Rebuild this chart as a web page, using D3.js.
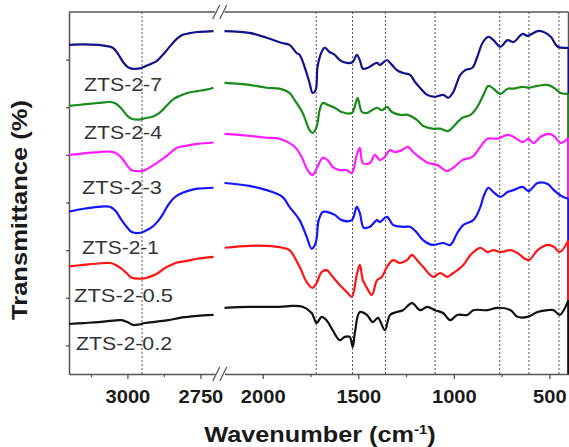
<!DOCTYPE html>
<html>
<head>
<meta charset="utf-8">
<script src="https://cdn.jsdelivr.net/npm/d3@7"></script>
<style>
  body { margin: 0; background: #fff; }
  text { font-family: "Liberation Sans", Arial, sans-serif; }
</style>
</head>
<body>
<div id="chart"></div>
<script>
// sample names, top to bottom, and their colours
var sampleNames = ['ZTS-2-7', 'ZTS-2-4', 'ZTS-2-3', 'ZTS-2-1', 'ZTS-2-0.5', 'ZTS-2-0.2'];
var sampleColors = ['#12128a', '#1a8a1a', '#ff1cff', '#1414ff', '#ff1414', '#111111'];

// [wavenumber, transmittance (offset, a.u.)]
// high wavenumber window 3200-2700
var hi_7 = [[3200,69.1],[3150,69.2],[3100,69.1],[3075,68.9],[3050,68.5],[3030,67.0],[3015,65.5],[3000,64.5],[2985,64.1],[2965,64.1],[2950,64.3],[2935,64.7],[2920,65.1],[2900,65.7],[2885,66.6],[2870,67.6],[2850,69.1],[2830,70.4],[2810,71.2],[2790,71.5],[2760,71.8],[2730,71.9],[2705,72.0]];
var hi_4 = [[3200,56.3],[3150,56.6],[3100,56.9],[3060,57.1],[3040,56.8],[3020,55.7],[3000,54.2],[2985,53.6],[2960,53.4],[2940,53.7],[2915,54.0],[2895,54.6],[2880,55.4],[2860,56.7],[2840,57.8],[2820,58.4],[2795,59.0],[2760,59.4],[2730,59.7],[2705,60.1]];
var hi_3 = [[3200,46.0],[3150,46.3],[3100,46.6],[3060,46.7],[3040,46.4],[3020,45.4],[3000,43.7],[2985,42.8],[2960,42.6],[2940,42.8],[2915,43.7],[2895,44.5],[2870,45.6],[2850,46.6],[2830,47.5],[2800,47.9],[2760,48.3],[2705,48.6]];
var hi_1 = [[3200,34.1],[3150,34.7],[3100,35.1],[3060,35.1],[3040,34.2],[3020,32.3],[3000,30.7],[2985,29.8],[2960,29.6],[2940,30.0],[2915,30.9],[2895,32.1],[2880,33.4],[2860,35.5],[2840,37.0],[2820,37.8],[2795,38.4],[2760,38.9],[2705,39.1]];
var hi_05 = [[3200,22.6],[3150,22.9],[3100,23.2],[3060,23.3],[3040,22.9],[3020,22.1],[3000,21.0],[2985,20.2],[2960,20.0],[2940,20.1],[2915,20.6],[2895,21.2],[2870,22.3],[2850,22.9],[2830,23.4],[2800,23.7],[2760,24.2],[2705,24.6]];
var hi_02 = [[3200,10.5],[3150,10.7],[3100,10.9],[3050,11.2],[3020,11.3],[3000,10.9],[2980,10.3],[2960,10.4],[2940,10.7],[2900,11.0],[2860,11.3],[2820,11.8],[2780,12.1],[2740,12.3],[2705,12.4]];

// low wavenumber window 2200-400
var lo_7 = [[2200,72.0],[2070,71.6],[1980,70.6],[1900,69.5],[1860,69.1],[1823,67.4],[1807,67.0],[1781,64.5],[1755,61.1],[1739,59.0],[1723,59.6],[1713,64.5],[1692,67.6],[1676,68.5],[1650,67.6],[1623,67.0],[1597,65.9],[1560,65.3],[1529,65.5],[1508,67.0],[1492,65.9],[1476,64.1],[1450,64.3],[1402,65.3],[1387,64.9],[1350,65.9],[1324,64.9],[1298,63.8],[1266,63.2],[1229,62.8],[1203,61.3],[1177,60.1],[1140,58.6],[1098,58.2],[1056,58.6],[1029,58.0],[1003,59.2],[966,62.8],[940,63.8],[903,64.3],[877,66.6],[850,69.5],[819,70.8],[793,70.1],[756,68.7],[719,70.1],[688,69.7],[640,71.4],[614,71.0],[562,72.0],[530,71.8],[493,70.8],[456,68.7],[400,68.5]];
var lo_4 = [[2200,61.1],[2070,60.7],[1980,60.1],[1912,59.9],[1860,59.0],[1833,57.5],[1791,54.8],[1755,51.2],[1739,50.6],[1718,51.9],[1702,55.4],[1686,56.9],[1660,56.5],[1623,55.9],[1587,55.0],[1534,54.8],[1513,56.9],[1503,58.0],[1481,55.0],[1455,54.8],[1402,55.9],[1376,55.4],[1350,56.1],[1324,55.0],[1282,54.4],[1240,54.4],[1192,53.3],[1161,52.1],[1113,51.5],[1071,51.5],[1029,51.0],[1003,51.9],[955,53.8],[913,54.4],[877,56.1],[845,58.6],[819,60.5],[793,59.9],[756,58.8],[719,59.9],[688,59.9],[640,60.3],[609,60.1],[562,60.5],[509,60.7],[477,60.1],[441,59.0],[400,58.8]];
var lo_3 = [[2200,50.4],[2070,50.0],[1980,49.6],[1912,49.4],[1833,47.7],[1797,45.6],[1765,42.8],[1739,41.8],[1713,43.5],[1686,45.4],[1660,44.9],[1634,43.5],[1597,42.8],[1560,42.8],[1534,42.2],[1508,46.0],[1492,47.5],[1476,44.3],[1439,44.3],[1413,46.0],[1387,44.9],[1361,45.6],[1334,47.0],[1308,46.6],[1271,47.0],[1240,47.7],[1213,46.6],[1177,45.4],[1135,44.3],[1088,43.9],[1035,42.6],[1003,43.3],[955,44.9],[903,45.6],[861,47.7],[824,49.4],[772,49.4],[719,50.2],[688,49.8],[640,48.7],[609,49.4],[583,48.5],[546,49.8],[504,50.4],[477,50.0],[441,48.5],[400,49.6]];
var lo_1 = [[2200,40.1],[2070,39.5],[1980,38.6],[1897,37.2],[1860,35.1],[1807,32.3],[1770,28.8],[1744,26.3],[1723,27.5],[1707,32.3],[1686,34.0],[1660,34.0],[1623,33.4],[1587,32.3],[1534,32.3],[1508,35.1],[1492,33.8],[1471,30.7],[1439,30.9],[1402,32.3],[1387,31.9],[1350,33.0],[1318,31.3],[1266,30.9],[1229,30.9],[1192,29.6],[1161,28.1],[1113,27.1],[1056,27.5],[1019,27.1],[982,29.6],[950,31.3],[898,32.3],[861,35.1],[845,37.2],[819,39.1],[793,38.2],[756,37.2],[719,38.2],[688,38.6],[640,39.3],[609,38.4],[562,40.1],[509,39.9],[477,38.6],[430,37.2],[400,36.8]];
var lo_05 = [[2200,26.5],[2070,26.9],[1980,26.9],[1897,26.5],[1860,26.0],[1807,22.5],[1770,19.3],[1739,18.1],[1718,19.1],[1692,21.4],[1666,21.8],[1634,20.4],[1597,18.7],[1560,17.2],[1534,16.2],[1508,20.8],[1492,22.9],[1476,19.7],[1455,18.1],[1429,16.6],[1402,19.7],[1376,20.4],[1350,22.5],[1318,23.9],[1282,23.3],[1245,23.9],[1219,25.0],[1192,23.9],[1161,22.5],[1108,20.4],[1071,21.2],[1035,20.4],[1003,21.2],[950,22.9],[913,25.0],[861,26.5],[824,25.6],[793,26.0],[756,25.6],[703,26.0],[667,25.4],[609,23.9],[562,26.0],[509,27.1],[477,26.7],[446,25.6],[400,28.1]];
var lo_02 = [[2200,13.9],[2070,14.1],[1912,14.1],[1844,14.3],[1791,14.1],[1744,12.8],[1718,10.7],[1692,12.0],[1666,11.3],[1634,9.2],[1597,7.1],[1571,7.8],[1545,7.8],[1529,5.7],[1518,8.6],[1492,13.0],[1455,12.4],[1424,10.9],[1397,11.8],[1361,9.2],[1334,12.4],[1298,13.0],[1266,13.4],[1219,14.9],[1177,13.4],[1140,14.1],[1098,13.4],[1056,12.8],[1019,11.3],[982,12.4],[929,12.4],[898,13.4],[824,13.4],[772,13.9],[703,13.4],[667,12.0],[614,12.0],[562,13.0],[509,13.4],[477,13.4],[446,12.4],[400,15.5]];

var hiSeries = [hi_7, hi_4, hi_3, hi_1, hi_05, hi_02];
var loSeries = [lo_7, lo_4, lo_3, lo_1, lo_05, lo_02];

// axis ticks and marker lines
var hiTicks = [3000, 2750];
var hiMinor = [3125, 2875];
var loTicks = [2000, 1500, 1000, 500];
var loMinor = [1750, 1250, 750];
var yTicks = [6, 16, 26, 36, 46, 56, 66];
var hiMarkers = [2950];
var loMarkers = [1720, 1530, 1358, 1098, 760, 607, 450];

var width = 569, height = 447;
var svg = d3.select("#chart").append("svg")
    .attr("width", width)
    .attr("height", height);

var xHi = d3.scaleLinear().domain([3200, 2700]).range([69, 215]);
var xLo = d3.scaleLinear().domain([2200, 400]).range([224.5, 568.5]);
var y = d3.scaleLinear().domain([0, 76]).range([374, 12]);
var plotTop = y.range()[1], plotBottom = y.range()[0];
var frameColor = "#555";

// dashed marker lines
function markers(xs, vals) {
    svg.append("g").selectAll("line")
        .data(vals)
        .enter()
        .append("line")
        .attr("x1", d => xs(d)).attr("x2", d => xs(d))
        .attr("y1", plotTop).attr("y2", plotBottom)
        .attr("stroke", "#444")
        .attr("stroke-width", 0.9)
        .attr("stroke-dasharray", "2,2");
}
markers(xHi, hiMarkers);
markers(xLo, loMarkers);

// sample labels
var labelX = [84, 84, 82, 82, 74, 76],
    labelY = [91, 139, 194, 254, 302, 350],
    labelLen = [78, 78, 80, 77, 99, 96];
svg.append("g").selectAll("text")
    .data(sampleNames)
    .enter()
    .append("text")
    .attr("x", (d, i) => labelX[i])
    .attr("y", (d, i) => labelY[i])
    .attr("textLength", (d, i) => labelLen[i])
    .attr("lengthAdjust", "spacingAndGlyphs")
    .style("font-size", "19px")
    .style("fill", "#333")
    .text(d => d);

// bottom axes
function bottomAxis(xs, major, minor) {
    var g = svg.append("g")
        .attr("class", "axis")
        .attr("transform", "translate(0," + plotBottom + ")")
        .call(d3.axisBottom(xs).tickValues(major).tickSize(5).tickSizeOuter(0).tickFormat(d3.format("d")));
    g.select(".domain").attr("stroke", frameColor).attr("stroke-width", 1.5);
    g.selectAll(".tick line").attr("stroke", frameColor).attr("stroke-width", 1.3);
    g.selectAll("text")
        .attr("y", 29).attr("dy", null)
        .attr("textLength", d => String(d).length * 11.2)
        .attr("lengthAdjust", "spacingAndGlyphs")
        .style("font-size", "18px")
        .style("font-weight", "bold")
        .style("fill", "#1a1a1a");
    var m = svg.append("g")
        .attr("transform", "translate(0," + plotBottom + ")")
        .call(d3.axisBottom(xs).tickValues(minor).tickSize(3).tickFormat(""));
    m.select(".domain").remove();
    m.selectAll(".tick line").attr("stroke", frameColor).attr("stroke-width", 1.3);
}
bottomAxis(xHi, hiTicks, hiMinor);
bottomAxis(xLo, loTicks, loMinor);

// left axis, ticks without labels
var yAxis = svg.append("g")
    .attr("transform", "translate(" + xHi.range()[0] + ",0)")
    .call(d3.axisLeft(y).tickValues(yTicks).tickSize(3).tickSizeOuter(0).tickFormat(""));
yAxis.select(".domain").attr("stroke", frameColor).attr("stroke-width", 1.5);
yAxis.selectAll(".tick line").attr("stroke", frameColor).attr("stroke-width", 1.3);

// top and right frame
[xHi, xLo].forEach(function(xs) {
    svg.append("line")
        .attr("x1", xs.range()[0]).attr("x2", xs.range()[1])
        .attr("y1", plotTop).attr("y2", plotTop)
        .attr("stroke", frameColor).attr("stroke-width", 1.5);
});
svg.append("line")
    .attr("x1", xLo.range()[1]).attr("x2", xLo.range()[1])
    .attr("y1", plotTop).attr("y2", plotBottom)
    .attr("stroke", frameColor).attr("stroke-width", 1.5);

// axis break marks
var gapMid = (xHi.range()[1] + xLo.range()[0]) / 2;
[plotTop, plotBottom].forEach(function(yy) {
    [gapMid - 3.5, gapMid + 3.5].forEach(function(cx) {
        svg.append("line")
            .attr("x1", cx - 3.5).attr("y1", yy + 7)
            .attr("x2", cx + 3.5).attr("y2", yy - 7)
            .attr("stroke", frameColor).attr("stroke-width", 1.3);
    });
});

// spectra
var curve = d3.curveCatmullRom.alpha(0.5);
var lineHi = d3.line().curve(curve).x(d => xHi(d[0])).y(d => y(d[1]));
var lineLo = d3.line().curve(curve).x(d => xLo(d[0])).y(d => y(d[1]));
sampleNames.forEach(function(name, i) {
    svg.append("path")
        .datum(hiSeries[i])
        .attr("d", lineHi)
        .attr("fill", "none")
        .attr("stroke", sampleColors[i])
        .attr("stroke-width", 2.2)
        .attr("stroke-linejoin", "round");
    svg.append("path")
        .datum(loSeries[i])
        .attr("d", lineLo)
        .attr("fill", "none")
        .attr("stroke", sampleColors[i])
        .attr("stroke-width", 2.2)
        .attr("stroke-linejoin", "round");
    // the trace ends on the right border and drops down it
    var last = loSeries[i][loSeries[i].length - 1];
    svg.append("line")
        .attr("x1", xLo(last[0])).attr("x2", xLo(last[0]))
        .attr("y1", y(last[1])).attr("y2", plotBottom)
        .attr("stroke", sampleColors[i])
        .attr("stroke-width", 2);
});

// axis titles
svg.append("text")
    .attr("transform", "translate(27,210) rotate(-90)")
    .attr("text-anchor", "middle")
    .attr("textLength", 220)
    .attr("lengthAdjust", "spacingAndGlyphs")
    .style("font-size", "22px")
    .style("font-weight", "bold")
    .style("fill", "#1a1a1a")
    .text("Transmittance (%)");

var xTitle = svg.append("text")
    .attr("transform", "translate(320,442) scale(1.15,1)")
    .attr("text-anchor", "middle")
    .style("font-size", "22px")
    .style("font-weight", "bold")
    .style("fill", "#1a1a1a");
xTitle.append("tspan").text("Wavenumber (cm");
xTitle.append("tspan").attr("dy", -8).style("font-size", "13px").text("-1");
xTitle.append("tspan").attr("dy", 8).text(")");
</script>
</body>
</html>
